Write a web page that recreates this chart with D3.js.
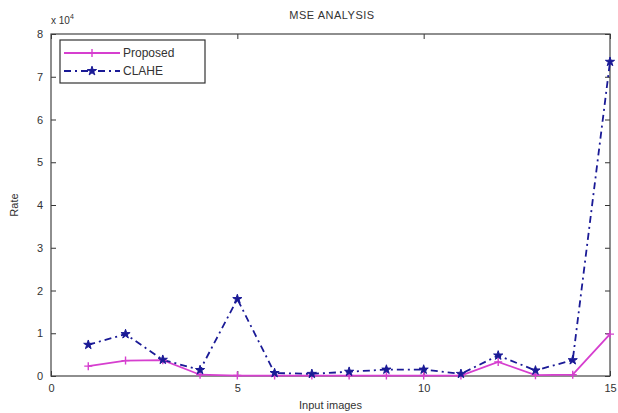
<!DOCTYPE html>
<html lang="en">
<head>
  <meta charset="UTF-8">
  <title>MSE Analysis</title>
  <style>
    body { margin: 0; background: #fff; }
    svg text { font-family: "Liberation Sans", Arial, sans-serif; fill: #333; }
  </style>
</head>
<body>
  <div id="chart"></div>
  <script src="https://d3js.org/d3.v7.min.js"></script>
  <script>
    // values
    const images = [1, 2, 3, 4, 5, 6, 7, 8, 9, 10, 11, 12, 13, 14, 15];
    const proposed = [2300, 3600, 3700, 300, 100, 100, 100, 100, 100, 100, 100, 3300, 200, 300, 9800];
    const clahe = [7300, 9800, 3800, 1400, 18000, 700, 500, 1000, 1500, 1500, 500, 4800, 1300, 3700, 73500];
    const xTicks = [0, 5, 10, 15];
    const yTicks = [0, 1, 2, 3, 4, 5, 6, 7, 8];

    const width = 618;
    const height = 413;
    const margin = { top: 34, right: 8, bottom: 37, left: 51 };
    const w = width - margin.left - margin.right;
    const h = height - margin.top - margin.bottom;

    const svg = d3.select('#chart')
      .append('svg')
      .attr('width', width)
      .attr('height', height);

    const g = svg.append('g')
      .attr('transform', `translate(${margin.left}, ${margin.top})`);

    const x = d3.scaleLinear().domain([0, 15]).range([0, w]);
    const y = d3.scaleLinear().domain([0, 80000]).range([h, 0]);

    // axes, ticks pointing inward like matlab
    const axisStyle = sel => {
      sel.select('.domain').remove();
      sel.selectAll('line').attr('stroke', '#333');
      sel.selectAll('text').style('font-size', '11px').attr('fill', '#333');
    };

    g.append('g')
      .attr('transform', `translate(0, ${h})`)
      .call(d3.axisBottom(x).tickValues(xTicks).tickSizeInner(-5).tickSizeOuter(0).tickPadding(8))
      .call(axisStyle);

    g.append('g')
      .call(d3.axisTop(x).tickValues(xTicks).tickSizeInner(-5).tickSizeOuter(0).tickFormat(''))
      .call(axisStyle);

    g.append('g')
      .call(d3.axisLeft(y).tickValues(yTicks.map(d => d * 10000)).tickFormat(d => d / 10000)
        .tickSizeInner(-5).tickSizeOuter(0).tickPadding(8))
      .call(axisStyle);

    g.append('g')
      .attr('transform', `translate(${w}, 0)`)
      .call(d3.axisRight(y).tickValues(yTicks.map(d => d * 10000)).tickFormat('')
        .tickSizeInner(-5).tickSizeOuter(0))
      .call(axisStyle);

    g.append('rect')
      .attr('width', w)
      .attr('height', h)
      .attr('fill', 'none')
      .attr('stroke', '#444')
      .attr('stroke-width', 1.2);

    const line = d3.line()
      .x((d, i) => x(images[i]))
      .y(d => y(d));

    const magenta = '#d63fcf';
    const blue = '#1a1a96';

    g.append('path')
      .datum(proposed)
      .attr('d', line)
      .attr('fill', 'none')
      .attr('stroke', magenta)
      .attr('stroke-width', 1.8);

    g.append('path')
      .datum(clahe)
      .attr('d', line)
      .attr('fill', 'none')
      .attr('stroke', blue)
      .attr('stroke-width', 1.8)
      .attr('stroke-dasharray', '7,4,2,4');

    const star = d3.symbol().type(d3.symbolStar).size(26);

    g.selectAll('.p-mark')
      .data(proposed)
      .enter()
      .append('path')
      .attr('class', 'p-mark')
      .attr('transform', (d, i) => `translate(${x(images[i])}, ${y(d)})`)
      .attr('d', 'M-4,0H4M0,-4V4')
      .attr('stroke', magenta)
      .attr('stroke-width', 1.4);

    g.selectAll('.c-mark')
      .data(clahe)
      .enter()
      .append('path')
      .attr('class', 'c-mark')
      .attr('transform', (d, i) => `translate(${x(images[i])}, ${y(d)})`)
      .attr('d', star)
      .attr('fill', blue)
      .attr('stroke', blue)
      .attr('stroke-width', 1);

    // legend
    const legend = svg.append('g').attr('transform', 'translate(60, 40)');
    legend.append('rect')
      .attr('width', 145)
      .attr('height', 43)
      .attr('fill', '#fff')
      .attr('stroke', '#333')
      .attr('stroke-width', 1.2);

    legend.append('line')
      .attr('x1', 4).attr('x2', 60).attr('y1', 13).attr('y2', 13)
      .attr('stroke', magenta).attr('stroke-width', 1.8);
    legend.append('path')
      .attr('transform', 'translate(32, 13)')
      .attr('d', 'M-4,0H4M0,-4V4')
      .attr('stroke', magenta).attr('stroke-width', 1.4);
    legend.append('text')
      .attr('x', 63).attr('y', 17)
      .style('font-size', '12px')
      .text('Proposed');

    legend.append('line')
      .attr('x1', 4).attr('x2', 60).attr('y1', 31).attr('y2', 31)
      .attr('stroke', blue).attr('stroke-width', 1.8)
      .attr('stroke-dasharray', '7,4,2,4');
    legend.append('path')
      .attr('transform', 'translate(32, 31)')
      .attr('d', star)
      .attr('fill', blue).attr('stroke', blue);
    legend.append('text')
      .attr('x', 63).attr('y', 35)
      .style('font-size', '12px')
      .text('CLAHE');

    // titles
    svg.append('text')
      .attr('x', 332)
      .attr('y', 19)
      .attr('text-anchor', 'middle')
      .style('font-size', '11px')
      .style('letter-spacing', '0.5px')
      .text('MSE ANALYSIS');

    svg.append('text')
      .attr('x', margin.left + w / 2)
      .attr('y', 409)
      .attr('text-anchor', 'middle')
      .style('font-size', '11px')
      .text('Input images');

    svg.append('text')
      .attr('transform', `translate(18, ${margin.top + h / 2}) rotate(-90)`)
      .attr('text-anchor', 'middle')
      .style('font-size', '11px')
      .text('Rate');

    const expo = svg.append('text')
      .attr('x', 51)
      .attr('y', 24)
      .style('font-size', '10px');
    expo.append('tspan').text('x 10');
    expo.append('tspan').attr('dy', -5).style('font-size', '7px').text('4');
  </script>
</body>
</html>
